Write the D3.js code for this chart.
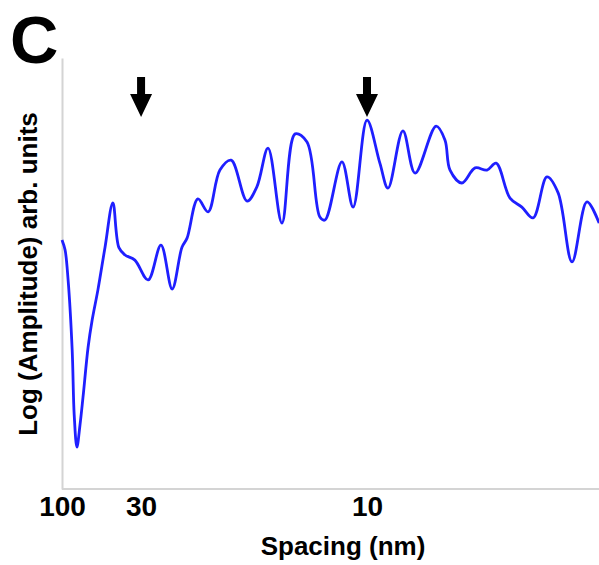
<!DOCTYPE html>
<html>
<head>
<meta charset="utf-8">
<script src="https://cdn.jsdelivr.net/npm/d3@7"></script>
<style>
  body { margin: 0; background: #fff; }
  text { font-family: Arial, "Liberation Sans", Helvetica, sans-serif; font-weight: bold; fill: #000; }
</style>
</head>
<body>
<div id="chart"></div>
<script>
// spatial frequency (1/nm) of each sample
var freq = [0.0100, 0.0109, 0.0118, 0.0130, 0.0136, 0.0144, 0.0153, 0.0162, 0.0177, 0.0189,
            0.0206, 0.0227, 0.0250, 0.0268, 0.0286, 0.0315, 0.0354, 0.0392, 0.0425, 0.0454,
            0.0469, 0.0501, 0.0531, 0.0566, 0.0599, 0.0646, 0.0675, 0.0708, 0.0749, 0.0788,
            0.0823, 0.0861, 0.0876, 0.0926, 0.0959, 0.1000, 0.1038, 0.1062, 0.1106, 0.1142,
            0.1204, 0.1230, 0.1245, 0.1280, 0.1319, 0.1354, 0.1381, 0.1422, 0.1457, 0.1490,
            0.1531, 0.1564, 0.1605, 0.1649, 0.1685];
// log amplitude, arbitrary units
var logAmp = [5.78, 5.55, 4.85, 3.23, 1.72, 0.97, 1.48, 2.13, 3.29, 3.92,
              4.62, 5.61, 6.64, 5.60, 5.43, 5.31, 4.85, 5.66, 4.64, 5.61,
              5.82, 6.73, 6.43, 7.40, 7.63, 6.68, 7.01, 7.91, 6.17, 8.24,
              8.05, 6.31, 6.24, 7.59, 6.54, 8.56, 7.56, 6.98, 8.31, 7.33,
              8.42, 8.10, 7.40, 7.10, 7.45, 7.40, 7.56, 6.75, 6.54, 6.29,
              7.24, 6.87, 5.27, 6.66, 6.17];
var tickSpacing = [100, 30, 10];     // nm
var arrowSpacing = [30, 10];         // nm

var width = 599, height = 565;
var margin = {top: 58, right: 0, bottom: 76, left: 62};

var svg = d3.select("#chart").append("svg")
    .attr("width", width)
    .attr("height", height);

var x = d3.scaleLinear()
    .domain([0.01, 0.1])
    .range([margin.left, 367]);

var y = d3.scaleLinear()
    .domain([0, 10])
    .range([height - margin.bottom, margin.top]);

// axes (plain grey lines, labels only on x)
var xAxis = d3.axisBottom(x)
    .tickValues(tickSpacing.map(function (s) { return 1 / s; }))
    .tickFormat(function (f) { return Math.round(1 / f); })
    .tickSize(0)
    .tickPadding(8);

var gx = svg.append("g")
    .attr("transform", "translate(0," + (height - margin.bottom) + ")")
    .call(xAxis);
gx.select(".domain")
    .attr("d", "M" + margin.left + ",0H" + width)
    .attr("stroke", "#d4d4d4")
    .attr("stroke-width", 2);
gx.selectAll(".tick text")
    .attr("font-size", 28)
    .attr("font-family", null)
    .attr("dy", "0.71em")
    .attr("y", 7);

var gy = svg.append("g")
    .attr("transform", "translate(" + margin.left + ",0)")
    .call(d3.axisLeft(y).tickValues([]).tickSizeOuter(0));
gy.select(".domain")
    .attr("stroke", "#d4d4d4")
    .attr("stroke-width", 2);

// curve
var pts = freq.map(function (f, i) { return [f, logAmp[i]]; });
var line = d3.line()
    .x(function (d) { return x(d[0]); })
    .y(function (d) { return y(d[1]); })
    .curve(d3.curveCatmullRom.alpha(0.5));

svg.append("path")
    .datum(pts)
    .attr("fill", "none")
    .attr("stroke", "#1f1fff")
    .attr("stroke-width", 2.8)
    .attr("stroke-linejoin", "round")
    .attr("d", line);

// arrows marking peaks
svg.selectAll("path.arrow")
    .data(arrowSpacing)
    .enter()
    .append("path")
    .attr("class", "arrow")
    .attr("fill", "#000")
    .attr("transform", function (s) { return "translate(" + x(1 / s) + ",77)"; })
    .attr("d", "M-4,0H4V17H11L0,40L-11,17H-4Z");

// labels
svg.append("text")
    .attr("x", 10)
    .attr("y", 63)
    .attr("font-size", 67)
    .text("C");

svg.append("text")
    .attr("x", 343)
    .attr("y", 555)
    .attr("text-anchor", "middle")
    .attr("font-size", 26)
    .text("Spacing (nm)");

svg.append("text")
    .attr("transform", "translate(37,274) rotate(-90)")
    .attr("text-anchor", "middle")
    .attr("font-size", 26)
    .text("Log (Amplitude) arb. units");
</script>
</body>
</html>
